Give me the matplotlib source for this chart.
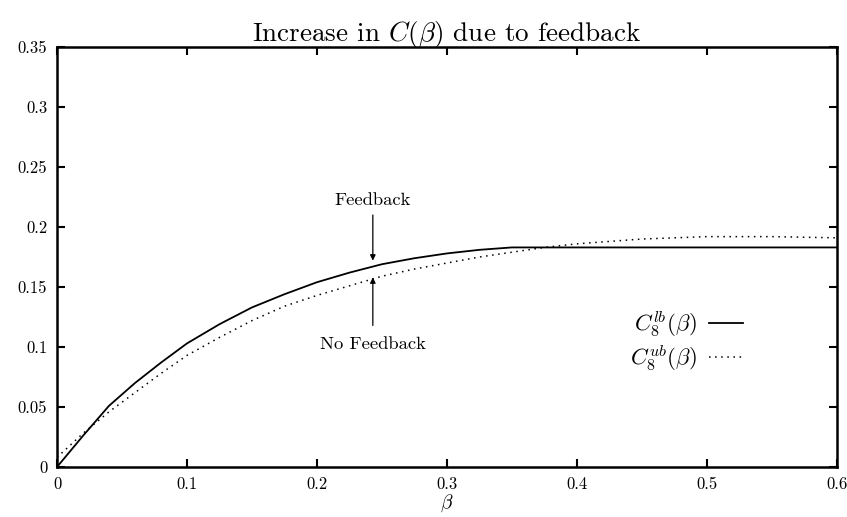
import numpy as np
import matplotlib
matplotlib.use("Agg")
import matplotlib.pyplot as plt

plt.rcParams['font.family'] = 'serif'
plt.rcParams['font.serif'] = ['cmr10', 'DejaVu Serif']
plt.rcParams['mathtext.fontset'] = 'cm'
plt.rcParams['axes.formatter.use_mathtext'] = True

# values
beta_lb = [0, 0.02, 0.04, 0.06, 0.08, 0.1, 0.125, 0.15, 0.175, 0.2, 0.225, 0.25,
           0.275, 0.3, 0.325, 0.35, 0.4, 0.5, 0.6]
c_lb = [0, 0.026, 0.051, 0.070, 0.087, 0.103, 0.119, 0.133, 0.144, 0.154, 0.162, 0.169,
        0.174, 0.178, 0.181, 0.183, 0.183, 0.183, 0.183]

beta_ub = [0, 0.02, 0.04, 0.06, 0.08, 0.1, 0.125, 0.15, 0.175, 0.2, 0.225, 0.25,
           0.275, 0.3, 0.325, 0.35, 0.375, 0.4, 0.45, 0.5, 0.55, 0.6]
c_ub = [0.008, 0.028, 0.046, 0.062, 0.078, 0.093, 0.108, 0.122, 0.134, 0.143, 0.151, 0.159,
        0.165, 0.170, 0.175, 0.179, 0.183, 0.186, 0.190, 0.192, 0.192, 0.191]

xticks = [0, 0.1, 0.2, 0.3, 0.4, 0.5, 0.6]
xticklabels = ['0', '0.1', '0.2', '0.3', '0.4', '0.5', '0.6']
yticks = [0, 0.05, 0.1, 0.15, 0.2, 0.25, 0.3, 0.35]
yticklabels = ['0', '0.05', '0.1', '0.15', '0.2', '0.25', '0.3', '0.35']

arrow_x = 0.243

fig = plt.figure(figsize=(8.47, 5.17), dpi=100)
ax = fig.add_axes([0.0673, 0.0967, 0.9207, 0.8123])

ax.plot(beta_lb, c_lb, color='black', lw=1.3, label=r'$C_8^{lb}(\beta)$')
ax.plot(beta_ub, c_ub, color='black', lw=1.1, linestyle=(0, (1, 3)),
        label=r'$C_8^{ub}(\beta)$')

ax.set_xlim(0, 0.6)
ax.set_ylim(0, 0.35)
ax.set_xticks(xticks)
ax.set_xticklabels(xticklabels)
ax.set_yticks(yticks)
ax.set_yticklabels(yticklabels)
ax.tick_params(direction='in', length=6, width=1.5, top=True, right=True,
               labelsize=12, pad=7)
for s in ax.spines.values():
    s.set_linewidth(1.8)

ax.set_title(r'Increase in $C(\beta)$ due to feedback', fontsize=19.5, pad=4)
ax.set_xlabel(r'$\beta$', fontsize=14, labelpad=0)

ax.annotate('', xy=(arrow_x, 0.172), xytext=(arrow_x, 0.21),
            arrowprops=dict(arrowstyle='-|>', color='black', lw=0.9,
                            mutation_scale=8, shrinkA=0, shrinkB=0))
ax.text(arrow_x, 0.222, 'Feedback', ha='center', va='center', fontsize=13.4)
ax.annotate('', xy=(arrow_x, 0.158), xytext=(arrow_x, 0.118),
            arrowprops=dict(arrowstyle='-|>', color='black', lw=0.9,
                            mutation_scale=8, shrinkA=0, shrinkB=0))
ax.text(arrow_x, 0.102, 'No Feedback', ha='center', va='center', fontsize=13.4)

leg = ax.legend(loc='center right', bbox_to_anchor=(0.906, 0.30), frameon=False,
                markerfirst=False, fontsize=16.5, handlelength=1.5,
                labelspacing=0.2, handletextpad=0.5)

fig.savefig('out.png', dpi=100)
